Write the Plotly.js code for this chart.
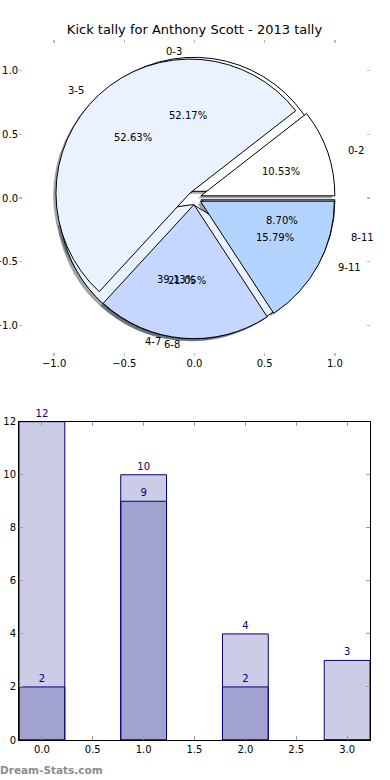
<!DOCTYPE html>
<html>
<head>
<meta charset="utf-8">
<script src="https://cdn.plot.ly/plotly-3.0.1.min.js"></script>
<style>html,body{margin:0;padding:0;background:#fff;}#chart{width:390px;height:780px;}</style>
</head>
<body>
<div id="chart"></div>
<script>
// ---- data ----
const pie1Labels = ['0-2', '3-5', '6-8', '9-11'];
const pie1Values = [2, 10, 4, 3];
const pie2Labels = ['0-3', '4-7', '8-11'];
const pie2Values = [12, 9, 2];
const barX = [0, 1, 2, 3];
const barLight = [12, 10, 4, 3];
const barDark = [2, 9, 2, 0];
const titleText = 'Kick tally for Anthony Scott - 2013 tally';
const watermark = 'Dream-Stats.com';

// ---- style ----
const FONT = 'DejaVu Sans';
const EXPLODE = 0.05;
const pie1Colors = ['#ffffff', '#eaf1ff', '#c5d7ff', '#b3d4ff'];
const pie2Colors = ['#ffffff', '#eaf1ff', '#c5d7ff'];
const NAVY = '#000080';

// layout geometry (pixels)
const W = 390, H = 780;
const M = {l: 19, r: 20, t: 40, b: 40};
const PW = W - M.l - M.r, PH = H - M.t - M.b;
const pieYDom = [(H - M.b - 356) / PH, 1];
const barYDom = [0, (H - M.b - 421.7) / PH];
const pieCx = 0.5;
const pieCy = (pieYDom[0] + pieYDom[1]) / 2;
const R = 134; // pie radius in px

function sum(a) { return a.reduce((s, v) => s + v, 0); }
function pieDomain(dx, dy) {
  const half = R * (1 + EXPLODE);
  return {
    x: [pieCx - half / PW + dx / PW, pieCx + half / PW + dx / PW],
    y: [pieCy - half / PH - dy / PH, pieCy + half / PH - dy / PH]
  };
}
function shadowColor(hex) {
  const r = parseInt(hex.slice(1, 3), 16), g = parseInt(hex.slice(3, 5), 16), b = parseInt(hex.slice(5, 7), 16);
  return 'rgba(' + Math.round(r * 0.3) + ',' + Math.round(g * 0.3) + ',' + Math.round(b * 0.3) + ',0.5)';
}
function pieTrace(labels, values, colors, dom, lineColor) {
  const total = sum(values);
  return {
    type: 'pie', labels: labels, values: values, sort: false,
    direction: 'counterclockwise',
    rotation: 90 - 360 * values[0] / total,
    pull: values.map(() => EXPLODE),
    marker: {colors: colors, line: {color: lineColor || '#000', width: 1}},
    textinfo: 'none', hoverinfo: 'skip', domain: dom, showlegend: false
  };
}
function pieAnnots(labels, values) {
  const total = sum(values);
  let theta = 0;
  const out = [];
  values.forEach((v, i) => {
    const t1 = theta + 360 * v / total;
    const tm = (theta + t1) / 2 * Math.PI / 180;
    theta = t1;
    const ox = EXPLODE * Math.cos(tm), oy = EXPLODE * Math.sin(tm);
    const xt = ox + 1.1 * Math.cos(tm), yt = oy + 1.1 * Math.sin(tm);
    out.push({xref: 'x2', yref: 'y2', x: xt, y: yt, text: labels[i], showarrow: false,
      xanchor: xt > 0 ? 'left' : 'right', yanchor: 'middle', borderpad: 0,
      font: {family: FONT, size: 10, color: '#000'}});
    const xp = ox + 0.6 * Math.cos(tm), yp = oy + 0.6 * Math.sin(tm);
    out.push({xref: 'x2', yref: 'y2', x: xp, y: yp, text: (100 * v / total).toFixed(2) + '%',
      showarrow: false, xanchor: 'center', yanchor: 'middle', borderpad: 0,
      font: {family: FONT, size: 10, color: '#000'}});
  });
  return out;
}

const traces = [
  pieTrace(pie2Labels, pie2Values, pie2Colors.map(shadowColor), pieDomain(-2.8, 2.55), 'rgba(0,0,0,0)'),
  pieTrace(pie1Labels, pie1Values, pie1Colors.map(shadowColor), pieDomain(-2.8, 2.55), 'rgba(0,0,0,0)'),
  pieTrace(pie2Labels, pie2Values, pie2Colors, pieDomain(0, 0)),
  pieTrace(pie1Labels, pie1Values, pie1Colors, pieDomain(0, 0)),
  {type: 'bar', x: barX, y: barLight, width: 0.45, xaxis: 'x', yaxis: 'y',
    marker: {color: 'rgba(0,0,128,0.2)', line: {color: NAVY, width: 1}},
    text: barLight.map(v => v ? String(v) : ''), textposition: 'outside', cliponaxis: false,
    textfont: {family: FONT, size: 10, color: NAVY}, hoverinfo: 'skip', showlegend: false},
  {type: 'bar', x: barX, y: barDark, width: 0.45, xaxis: 'x', yaxis: 'y',
    marker: {color: 'rgba(0,0,128,0.2)', line: {color: NAVY, width: 1}},
    text: barDark.map(v => v ? String(v) : ''), textposition: 'outside', cliponaxis: false,
    textfont: {family: FONT, size: 10, color: NAVY}, hoverinfo: 'skip', showlegend: false}
];

const tickFont = {family: FONT, size: 10, color: '#000'};
const pieAxis = {showline: false, showgrid: false, zeroline: false, ticks: 'inside', ticklen: 3,
  tickwidth: 1.5, tickcolor: '#bbb', mirror: 'ticks', dtick: 0.5, tick0: 0, tickformat: '.1f',
  tickfont: tickFont, fixedrange: true, automargin: false};
const barAxis = {showline: true, linecolor: '#000', linewidth: 1, mirror: 'ticks', showgrid: false,
  zeroline: false, ticks: 'inside', ticklen: 4, tickcolor: '#999', tickfont: tickFont,
  fixedrange: true, automargin: false};

const layout = {
  width: W, height: H, margin: M, paper_bgcolor: '#fff', plot_bgcolor: 'rgba(0,0,0,0)',
  font: {family: FONT, size: 10, color: '#000'},
  title: {text: titleText, font: {family: FONT, size: 13, color: '#000'},
    xref: 'container', yref: 'container', x: 194.5 / W, xanchor: 'center', y: 1 - 29.5 / H, yanchor: 'middle'},
  barmode: 'overlay', showlegend: false,
  xaxis: Object.assign({}, barAxis, {domain: [0, 1], anchor: 'y', range: [-0.225, 3.225], dtick: 0.5, tick0: 0, tickformat: '.1f'}),
  yaxis: Object.assign({}, barAxis, {domain: barYDom, anchor: 'x', range: [0, 12], dtick: 2, tick0: 0}),
  xaxis2: Object.assign({}, pieAxis, {domain: [0, 1], anchor: 'y2', range: [-1.25, 1.25]}),
  yaxis2: Object.assign({}, pieAxis, {domain: pieYDom, anchor: 'x2', range: [-1.24, 1.24]}),
  annotations: pieAnnots(pie1Labels, pie1Values).concat(pieAnnots(pie2Labels, pie2Values)).concat([
    {xref: 'paper', yref: 'paper', x: -M.l / PW - 1 / PW, y: -30 / PH, xanchor: 'left', yanchor: 'middle',
      text: watermark, showarrow: false, borderpad: 0,
      font: {family: FONT, size: 10.5, color: '#8c8c8c', weight: 'bold'}}
  ])
};

Plotly.newPlot('chart', traces, layout, {staticPlot: true, displayModeBar: false});
</script>
</body>
</html>
